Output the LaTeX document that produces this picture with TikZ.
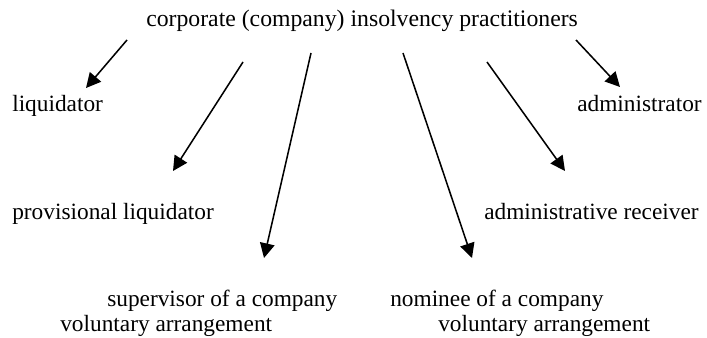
\documentclass[tikz,border=0pt]{standalone}
\usepackage{fontspec}
\setmainfont{Liberation Serif}
\usetikzlibrary{arrows.meta}
\begin{document}
\begin{tikzpicture}[x=0.75pt,y=-0.75pt,
  lbl/.style={anchor=base west,inner sep=0pt,font=\fontsize{17.5}{21}\selectfont},
  arr/.style={line width=1.15pt,-{Triangle[length=11pt,width=11pt]}}]
\useasboundingbox (0,0) rectangle (707,338);
\node[lbl,font=\fontsize{17.8}{21}\selectfont] (title) at (146,27) {corporate (company) insolvency practitioners};
\node[lbl] (liq) at (12,112) {liquidator};
\node[lbl] (adm) at (577,112) {administrator};
\node[lbl] (prov) at (12,220) {provisional liquidator};
\node[lbl] (rec) at (484,220) {administrative receiver};
\node[lbl] (sup1) at (107,307) {supervisor of a company};
\node[lbl] (sup2) at (60,332) {voluntary arrangement};
\node[lbl] (nom1) at (390,307) {nominee of a company};
\node[lbl] (nom2) at (438,332) {voluntary arrangement};
\coordinate (s1) at (127,40);  \coordinate (t1) at (86,88);
\coordinate (s2) at (243,62);  \coordinate (t2) at (173,171);
\coordinate (s3) at (311,53);  \coordinate (t3) at (264,258);
\coordinate (s4) at (403,53);  \coordinate (t4) at (472,258);
\coordinate (s5) at (487,62);  \coordinate (t5) at (565,171);
\coordinate (s6) at (576,40);  \coordinate (t6) at (620,87);
\draw[arr] (s1) -- (t1);
\draw[arr] (s2) -- (t2);
\draw[arr] (s3) -- (t3);
\draw[arr] (s4) -- (t4);
\draw[arr] (s5) -- (t5);
\draw[arr] (s6) -- (t6);
\end{tikzpicture}
\end{document}
